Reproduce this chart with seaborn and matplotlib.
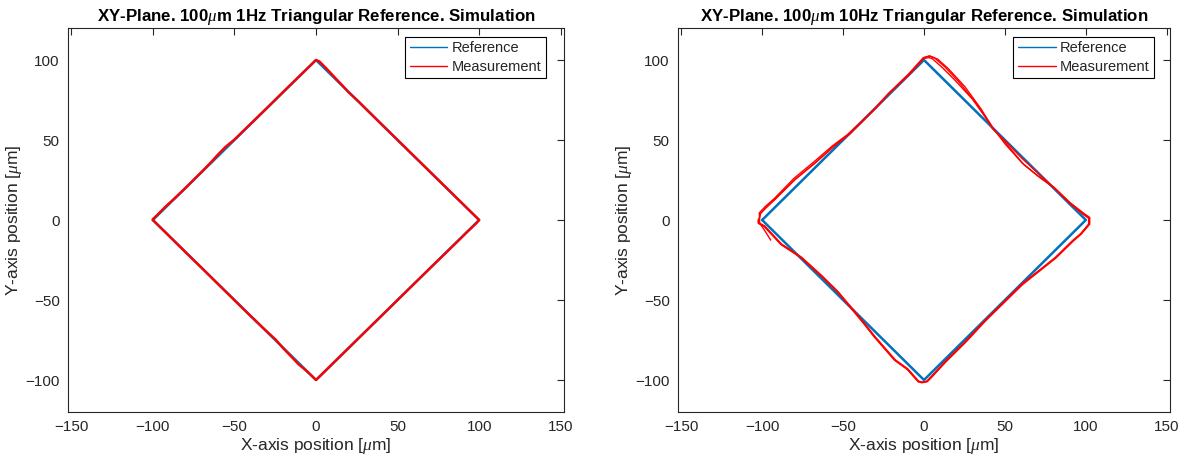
import numpy as np
import pandas as pd
import matplotlib
matplotlib.use("Agg")
import matplotlib.pyplot as plt
import seaborn as sns

# Reference trajectory vertices (triangular X/Y references -> diamond)
ref_x = [-100, 0, 100, 0, -100]
ref_y = [0, 100, 0, -100, 0]

# 1 Hz measured trajectory (one cycle)
meas1_x = [-100, -97, -92.2, -86, -80, -70, -64, -60.6, -55.5, -50, -40, -30, -20, -10,
           0, 2, 4, 8, 12, 15.9, 20, 26.1, 30, 40, 50, 60, 70, 80, 90, 95, 100,
           98, 95, 91.4, 88, 80, 70, 60, 50, 40, 30, 20, 10, 0,
           -3, -7, -10.6, -15, -20, -24.9, -30, -40, -50, -60, -70, -80, -90, -100]
meas1_y = [0.5, 3.5, 8.4, 14.2, 20, 30.2, 36.5, 40.4, 45.7, 50.3, 60.2, 70.1, 80.2, 90.1,
           100, 99.2, 97.2, 93, 88.6, 84.4, 79.8, 74.1, 70.1, 60, 50, 40, 30, 20, 10, 5, 0,
           -2.3, -5.2, -8.7, -12.2, -20.1, -30, -40, -50, -60, -70, -80, -90, -100,
           -97, -93.3, -90.3, -85.6, -80.3, -74.5, -69.8, -60.1, -50.1, -40.1, -30, -20.1, -10, 0]

# 10 Hz measured trajectory: start-up segment and three cycles
meas10_start_x = [-94.7, -98.5, -101.5]
meas10_start_y = [-12.6, -6.5, -2.0]

meas10_c1_x = [-101.5, -101.8, -98, -92.5, -80.5, -68.2, -56.5, -47, -38.6, -30.4, -22, -9.8, -0.5, 3.2,
               8.4, 15.2, 25.2, 35.1, 42.2, 50.2, 60.5, 70.3, 80.3, 90, 99.5, 102.4, 102.4,
               97.2, 92, 81.6, 71.3, 61, 50.6, 38.2, 25.8, 13.4, 4.2, 2, -1.2,
               -3.4, -10.2, -18, -30.4, -36.2, -42.7, -53, -63.3, -75.7, -88.2, -98.6, -102.3, -102.3]
meas10_c1_y = [-2.0, 4.4, 8.5, 13.4, 25.9, 36.2, 46.4, 53.6, 61.6, 69.8, 79.1, 91, 101.4, 102.4,
               100.6, 94.4, 83.4, 69.6, 58.2, 47.4, 35.8, 27.6, 20.5, 11, 3.6, 1.6, -2.6,
               -8.8, -13.4, -23.7, -32, -40.3, -50.6, -62.9, -76.4, -88.8, -98.9, -101.1, -101.7,
               -101.1, -93.4, -87.7, -73.3, -65.9, -57.8, -45.3, -35, -23.6, -15.3, -4, -2, 0.2]

meas10_c2_x = [-102.1, -101.2, -97.5, -92.2, -79.8, -67.4, -56, -46.7, -38.4, -30.2, -21.9, -9.5, -0.2, 2.9,
               5, 11.2, 19.4, 29.8, 40.1, 42.2, 50.4, 60.8, 71.1, 80.4, 89.7, 98.5, 101.7, 101.7,
               97, 91.8, 81.4, 71.1, 60.8, 50.4, 38, 25.6, 13.2, 4, 1.9, -1.2,
               -3.3, -10, -17.8, -30.2, -36, -42.6, -52.9, -63.2, -75.6, -88, -98.4, -102.1, -102.1]
meas10_c2_y = [-0.6, 3.9, 7.8, 12.8, 25.2, 35.5, 45.8, 53.1, 61.3, 69.5, 78.8, 90.6, 100.9, 101.5,
               100.9, 95.4, 87.1, 75.7, 61.3, 57.2, 49.2, 38.3, 28.8, 20, 10.7, 3.4, 1.2, -2.7,
               -8.5, -13, -23.3, -31.6, -39.8, -50.2, -62.5, -76, -88.4, -98.5, -100.7, -101.3,
               -100.7, -93, -87.3, -72.9, -65.5, -57.4, -45, -34.7, -23.3, -15, -3.7, -1.7, 0.5]

meas10_c3_x = [-101.9, -101, -97.2, -91.8, -79.4, -67, -55.6, -46.3, -38, -29.8, -21.5, -9.1, 0.2, 3.6,
               6.4, 13, 21.5, 31.8, 40.6, 43, 51.5, 61.8, 72, 81, 90.4, 99.2, 102, 102,
               96.6, 91.4, 81, 70.7, 60.4, 50, 37.6, 25.2, 12.8, 3.6, 1.5, -1.6,
               -3.7, -10.4, -18.2, -30.6, -36.4, -43, -53.3, -63.6, -76, -88.4, -98.8, -102.4, -102.4]
meas10_c3_y = [-0.3, 4.2, 8.1, 13.2, 25.6, 35.9, 46.2, 53.5, 61.7, 69.9, 79.2, 91, 101.6, 102.6,
               101.4, 95.6, 86.4, 73.4, 60.2, 56.6, 46.8, 34.5, 26.2, 19.6, 10.6, 3.2, 1, -2.4,
               -8.8, -13.3, -23.6, -31.9, -40.1, -50.5, -62.8, -76.3, -88.7, -98.8, -101, -101.6,
               -101, -93.3, -87.6, -73.2, -65.8, -57.7, -45.3, -35, -23.6, -15.3, -4, -2, 0.2]

titles = [r"XY-Plane. 100$\mu$m 1Hz Triangular Reference. Simulation",
          r"XY-Plane. 100$\mu$m 10Hz Triangular Reference. Simulation"]
xlabel = r"X-axis position [$\mu$m]"
ylabel = r"Y-axis position [$\mu$m]"
xticks = [-150, -100, -50, 0, 50, 100, 150]
yticks = [-100, -50, 0, 50, 100]
legend_labels = ["Reference", "Measurement"]

REF_COLOR = "#0072BD"
MEAS_COLOR = "#FF0000"
INK = "#262626"

sns.set_theme(style="white")
plt.rcParams["font.family"] = ["Liberation Sans", "DejaVu Sans"]
plt.rcParams["mathtext.fontset"] = "custom"
plt.rcParams["mathtext.it"] = "Liberation Serif:italic"
plt.rcParams["mathtext.rm"] = "Liberation Sans"


def traces(pairs):
    frames = []
    for k, (xs, ys) in enumerate(pairs):
        frames.append(pd.DataFrame({"x": xs, "y": ys, "loop": k}))
    return pd.concat(frames, ignore_index=True)


ref_df = traces([(ref_x, ref_y)])
meas_1hz = traces([(meas1_x, meas1_y)])
meas_10hz = traces([(meas10_start_x, meas10_start_y),
                    (meas10_c1_x, meas10_c1_y),
                    (meas10_c2_x, meas10_c2_y),
                    (meas10_c3_x, meas10_c3_y)])

fig = plt.figure(figsize=(11.8, 4.68), dpi=100)
ax1 = fig.add_axes([68 / 1180, 56 / 468, 496 / 1180, 384 / 468])
ax2 = fig.add_axes([678 / 1180, 56 / 468, 492 / 1180, 384 / 468])

panels = [(ax1, meas_1hz, titles[0], 1.7, (0.9637, 0.9766)),
          (ax2, meas_10hz, titles[1], 1.0, (0.9675, 0.9766))]

for ax, meas, title, mlw, anchor in panels:
    sns.lineplot(data=ref_df, x="x", y="y", units="loop", estimator=None, sort=False,
                 color=REF_COLOR, linewidth=1.8, ax=ax, legend=False)
    sns.lineplot(data=meas, x="x", y="y", units="loop", estimator=None, sort=False,
                 color=MEAS_COLOR, linewidth=mlw, ax=ax, legend=False)
    ax.set_xlim(-152, 152)
    ax.set_ylim(-120, 120)
    ax.set_xticks(xticks)
    ax.set_yticks(yticks)
    ax.tick_params(direction="in", length=5, width=0.8, top=True, right=True,
                   labelsize=11, colors=INK, pad=6)
    for s in ax.spines.values():
        s.set_color(INK)
        s.set_linewidth(0.8)
    ax.set_xlabel(xlabel, fontsize=12.5, color=INK, labelpad=1)
    ax.set_ylabel(ylabel, fontsize=12.5, color=INK, labelpad=1)
    ax.set_title(title, fontsize=12.2, fontweight="bold", color="black", pad=5)
    handles = [plt.Line2D([], [], color=REF_COLOR, linewidth=1.0),
               plt.Line2D([], [], color=MEAS_COLOR, linewidth=1.0)]
    leg = ax.legend(handles, legend_labels, loc="upper right", bbox_to_anchor=anchor,
                    fontsize=10.5, frameon=True, fancybox=False, framealpha=1,
                    edgecolor="black", handlelength=2.6, handletextpad=0.3,
                    borderpad=0.3, labelspacing=0.3, borderaxespad=0.0)
    leg.get_frame().set_linewidth(0.8)
    for t in leg.get_texts():
        t.set_color(INK)

fig.savefig("out.png", dpi=100)
